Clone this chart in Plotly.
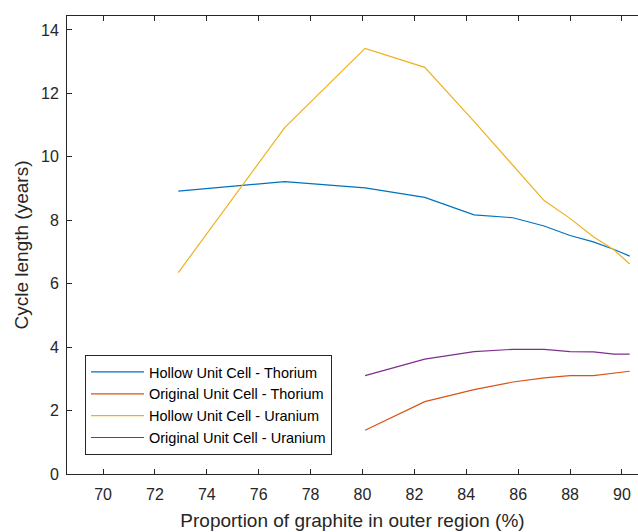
import plotly.graph_objects as go

x_hollow = [72.9, 77.0, 80.1, 82.4, 84.3, 85.8, 87.0, 88.0, 88.9, 89.7, 90.3]
hollow_thorium = [8.92, 9.22, 9.02, 8.72, 8.17, 8.08, 7.82, 7.52, 7.32, 7.08, 6.87]
hollow_uranium = [6.35, 10.92, 13.42, 12.82, 11.12, 9.75, 8.62, 8.06, 7.48, 7.06, 6.62]

x_orig = [80.1, 82.4, 84.3, 85.8, 87.0, 88.0, 88.9, 89.7, 90.3]
orig_thorium = [1.38, 2.28, 2.66, 2.90, 3.03, 3.10, 3.10, 3.17, 3.24]
orig_uranium = [3.10, 3.62, 3.86, 3.93, 3.93, 3.86, 3.85, 3.78, 3.78]

x_ticks = list(range(70, 91, 2))
y_ticks = list(range(0, 15, 2))

series = [
    ("Hollow Unit Cell - Thorium", x_hollow, hollow_thorium, "#0072BD"),
    ("Original Unit Cell - Thorium", x_orig, orig_thorium, "#D95319"),
    ("Hollow Unit Cell - Uranium", x_hollow, hollow_uranium, "#EDB120"),
    ("Original Unit Cell - Uranium", x_orig, orig_uranium, "#7E2F8E"),
]

fig = go.Figure()
for name, xs, ys, col in series:
    fig.add_trace(go.Scatter(x=xs, y=ys, mode="lines", name=name,
                             line=dict(color=col, width=1.2)))

axis_col = "#262626"
fig.update_layout(
    width=638, height=532,
    margin=dict(l=67, r=0, t=16, b=58),
    paper_bgcolor="white", plot_bgcolor="white",
    font=dict(family="Liberation Sans, Arial, sans-serif", color=axis_col, size=16),
    xaxis=dict(range=[68.61, 90.62], tickvals=x_ticks, ticks="inside", ticklen=5,
               tickcolor=axis_col, showline=True, linecolor=axis_col, linewidth=1,
               mirror="ticks", showgrid=False, zeroline=False,
               tickfont=dict(size=16, color=axis_col), ticklabelstandoff=6,
               title=dict(text="Proportion of graphite in outer region (%)",
                          font=dict(size=19, color=axis_col), standoff=11)),
    yaxis=dict(range=[0, 14.44], tickvals=y_ticks, ticks="inside", ticklen=5,
               tickcolor=axis_col, showline=True, linecolor=axis_col, linewidth=1,
               showgrid=False, zeroline=False,
               tickfont=dict(size=16, color=axis_col), ticklabelstandoff=4,
               title=dict(text="Cycle length (years)",
                          font=dict(size=19, color=axis_col), standoff=7)),
    legend=dict(x=(85 - 67) / 571, y=(474 - 355) / 458, xanchor="left", yanchor="top",
                bgcolor="white", bordercolor=axis_col, borderwidth=1, itemwidth=53,
                font=dict(size=14.5, color="#000000"), tracegroupgap=0),
    showlegend=True,
)

fig.write_html("out.html")
